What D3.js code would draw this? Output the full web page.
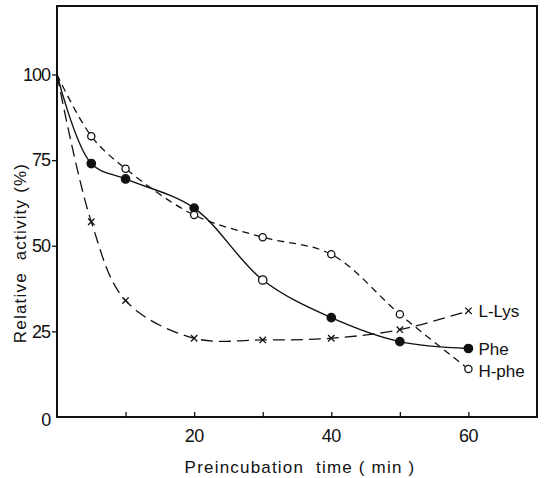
<!DOCTYPE html>
<html><head><meta charset="utf-8">
<script src="https://cdn.jsdelivr.net/npm/d3@7"></script>
<style>body{margin:0;background:#fff}svg{display:block}text{font-family:"Liberation Sans",Arial,sans-serif;fill:#111}</style>
</head><body><svg id="c" width="544" height="478"></svg>
<script>
const times = [0, 5, 10, 20, 30, 40, 50, 60];
const pheValues = [100, 74, 69.5, 61, 40, 29, 22, 20];
const hpheValues = [100, 82, 72.5, 59, 52.5, 47.5, 30, 14];
const lysValues = [100, 57, 34, 23, 22.5, 23, 25.5, 31];
const seriesNames = ["L-Lys", "Phe", "H-phe"];
const xTicks = [0, 20, 40, 60];
const xMinorTicks = [10, 20, 30, 40, 50, 60];
const yTicks = [0, 25, 50, 75, 100];

const svg = d3.select("#c");
const L = 57, R = 537, T = 6, B = 417;
const x = d3.scaleLinear().domain([0, 70]).range([L, R]);
const y = d3.scaleLinear().domain([0, 120]).range([B, T]);

// frame
svg.append("rect").attr("x", L).attr("y", T).attr("width", R - L).attr("height", B - T)
  .attr("fill", "none").attr("stroke", "#111").attr("stroke-width", 2);

// y axis ticks and labels
const yAx = svg.append("g").attr("transform", `translate(${L},0)`)
  .call(d3.axisLeft(y).tickValues(yTicks.filter(d => d > 0)).tickSize(5).tickPadding(2).tickFormat(d3.format("d")));
yAx.select(".domain").remove();
yAx.selectAll("line").attr("stroke", "#111").attr("stroke-width", 1.3);
yAx.selectAll("text").attr("font-size", 18).attr("fill", "#111").style("font-family", "Liberation Sans, Arial, sans-serif").attr("letter-spacing", -1);

// x axis ticks (inward)
const xAx = svg.append("g").attr("transform", `translate(0,${B})`)
  .call(d3.axisBottom(x).tickValues(xMinorTicks).tickSize(-5).tickFormat(""));
xAx.select(".domain").remove();
xAx.selectAll("line").attr("stroke", "#111").attr("stroke-width", 1.3);
svg.append("g").selectAll("text").data(xTicks).join("text")
  .attr("x", d => d === 0 ? x(d) - 11 : x(d)).attr("y", d => d === 0 ? 426 : 442)
  .attr("text-anchor", "middle").attr("font-size", 18).attr("letter-spacing", -0.5).text(d => d);

// axis titles
svg.append("text").attr("x", 300).attr("y", 473).attr("text-anchor", "middle").attr("font-size", 17)
  .attr("letter-spacing", 1.2).attr("xml:space", "preserve").text("Preincubation  time ( min )");
svg.append("text").attr("transform", `translate(26,253) rotate(-90)`).attr("text-anchor", "middle")
  .attr("font-size", 17).attr("letter-spacing", 1.2).attr("xml:space", "preserve").text("Relative  activity (%)");

const curve = d3.curveCatmullRom.alpha(0.5);
const mk = vals => times.map((t, i) => [t, vals[i]]);
const line = d3.line().x(d => x(d[0])).y(d => y(d[1])).curve(curve);

// H-phe dashed
svg.append("path").attr("d", line(mk(hpheValues))).attr("fill", "none").attr("stroke", "#111")
  .attr("stroke-width", 1.3).attr("stroke-dasharray", "7,5");
// L-Lys long dashed
svg.append("path").attr("d", line(mk(lysValues))).attr("fill", "none").attr("stroke", "#111")
  .attr("stroke-width", 1.3).attr("stroke-dasharray", "12,6");
// Phe solid
svg.append("path").attr("d", line(mk(pheValues))).attr("fill", "none").attr("stroke", "#111")
  .attr("stroke-width", 1.4);

// markers
const pts = mk(pheValues).slice(1);
svg.append("g").selectAll("circle").data(pts).join("circle")
  .attr("cx", d => x(d[0])).attr("cy", d => y(d[1])).attr("r", 4.2)
  .attr("fill", d => d[0] === 30 ? "#fff" : "#111").attr("stroke", "#111").attr("stroke-width", 1.3);
svg.append("g").selectAll("circle").data(mk(hpheValues).slice(1)).join("circle")
  .attr("cx", d => x(d[0])).attr("cy", d => y(d[1])).attr("r", 3.6)
  .attr("fill", "#fff").attr("stroke", "#111").attr("stroke-width", 1.3);
const cr = 3.2;
svg.append("g").selectAll("path").data(mk(lysValues).slice(1)).join("path")
  .attr("d", d => { const cx = x(d[0]), cy = y(d[1]);
    return `M${cx-cr},${cy-cr}L${cx+cr},${cy+cr}M${cx-cr},${cy+cr}L${cx+cr},${cy-cr}`; })
  .attr("stroke", "#111").attr("stroke-width", 1.3);

// series labels
const labelY = [lysValues[7], pheValues[7], hpheValues[7]];
svg.append("g").selectAll("text").data(seriesNames).join("text")
  .attr("x", x(60) + 10).attr("y", (d, i) => y(labelY[i]) + 6 + (i === 2 ? 2 : 0))
  .attr("font-size", 17).text(d => d);
</script></body></html>
